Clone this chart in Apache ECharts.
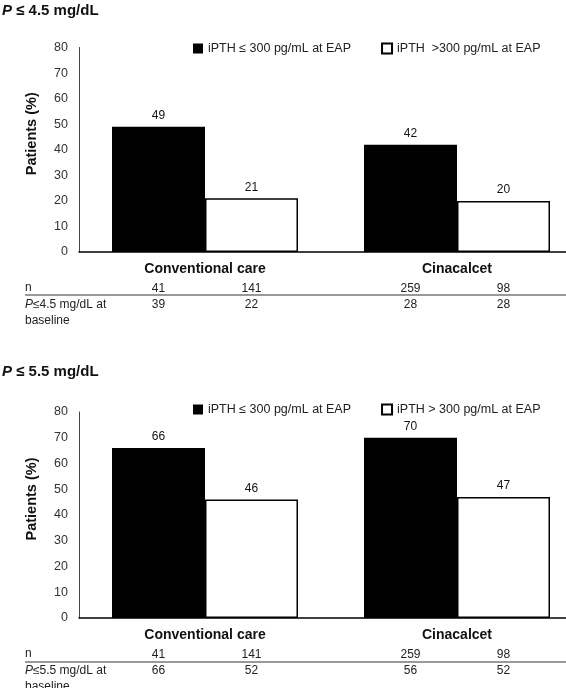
<!DOCTYPE html>
<html>
<head>
<meta charset="utf-8">
<script src="https://cdn.jsdelivr.net/npm/echarts@6/dist/echarts.min.js"></script>
<style>html,body{margin:0;padding:0;background:#fff}#c{width:566px;height:688px}</style>
</head>
<body>
<div id="c"></div>
<script>
const categories = ['Conventional care', 'Cinacalcet'];
const lowName = 'iPTH \u2264 300 pg/mL at EAP';
const highNameTop = 'iPTH  >300 pg/mL at EAP';
const highNameBottom = 'iPTH > 300 pg/mL at EAP';
const titleTop = '4.5';
const titleBottom = '5.5';

const topLow = [49, 42];
const topHigh = [21, 20];
const bottomLow = [66, 70];
const bottomHigh = [46, 47];

const nLow = [41, 259];
const nHigh = [141, 98];

const topBaselineLow = [39, 28];
const topBaselineHigh = [22, 28];
const bottomBaselineLow = [66, 56];
const bottomBaselineHigh = [52, 52];

const yMin = 0, yMax = 80, yInterval = 10;

const FONT = "'Liberation Sans', Arial, Helvetica, sans-serif";
const BW = 93;

function labelSeries(gi, stack, nArr, baseArr) {
  return {
    type: 'bar', xAxisIndex: gi, yAxisIndex: gi, stack: stack, barWidth: BW,
    data: nArr.map(() => 0), silent: true,
    itemStyle: { color: 'transparent', borderWidth: 0 },
    label: {
      show: true, position: 'bottom', distance: 29,
      formatter: p => nArr[p.dataIndex] + '\n' + baseArr[p.dataIndex],
      fontFamily: FONT, fontSize: 12, lineHeight: 16, color: '#222'
    }
  };
}
function valueSeries(gi, stack, name, vals, fill) {
  return {
    type: 'bar', name: name, xAxisIndex: gi, yAxisIndex: gi, stack: stack, barWidth: BW, barGap: 0,
    data: vals,
    itemStyle: fill ? { color: '#000', borderColor: '#000', borderWidth: 0 } : { color: '#fff', borderColor: '#000', borderWidth: 1.5 },
    label: { show: true, position: 'top', distance: 5, fontFamily: FONT, fontSize: 12, color: '#111' }
  };
}

const grids = [
  { left: 79, top: 47.5, height: 204.5, right: -17, outerBoundsMode: 'none' },
  { left: 79, top: 412, height: 206, right: -17, outerBoundsMode: 'none' }
];

function xAxis(gi) {
  return {
    type: 'category', gridIndex: gi, data: categories,
    axisLine: { lineStyle: { color: '#000', width: 1.5 } },
    axisTick: { show: false },
    axisLabel: { margin: 10, fontFamily: FONT, fontSize: 14, fontWeight: 'bold', color: '#111' }
  };
}
function yAxis(gi) {
  return {
    type: 'value', gridIndex: gi, min: yMin, max: yMax, interval: yInterval,
    name: 'Patients (%)', nameLocation: 'middle', nameGap: 40, nameRotate: 90,
    nameTextStyle: { fontFamily: FONT, fontSize: 14.5, fontWeight: 'bold', color: '#111', padding: [0, 0, 0, 32] },
    axisLine: { show: true, lineStyle: { color: '#444', width: 1 } },
    axisTick: { show: false },
    splitLine: { show: false },
    axisLabel: { margin: 11, fontFamily: FONT, fontSize: 12.5, color: '#333' }
  };
}

function titleObj(val, top) {
  return {
    text: '{i|P} \u2264 ' + val + ' mg/dL', left: 2, top: top, padding: 0,
    textStyle: {
      fontFamily: FONT, fontSize: 15, fontWeight: 'bold', color: '#111',
      rich: { i: { fontFamily: FONT, fontSize: 15, fontWeight: 'bold', fontStyle: 'italic', color: '#111' } }
    }
  };
}
function legendObj(top, highName) {
  return {
    data: [lowName, highName], left: 193, top: top, padding: 0, itemWidth: 10, itemHeight: 10, itemGap: 30,
    icon: 'rect', selectedMode: false,
    textStyle: { fontFamily: FONT, fontSize: 12.5, color: '#222' }
  };
}

function rowGraphics(lineY, nY, val) {
  return [
    { type: 'line', shape: { x1: 25, y1: lineY, x2: 566, y2: lineY }, style: { stroke: '#777', lineWidth: 1.5 } },
    { type: 'text', left: 25, top: nY - 7, style: { text: 'n', fontFamily: FONT, fontSize: 12, fill: '#222' } },
    { type: 'text', left: 25, top: nY + 8, style: {
        text: '{i|P}\u2264' + val + ' mg/dL at\nbaseline', fontFamily: FONT, fontSize: 12, lineHeight: 16, fill: '#222',
        rich: { i: { fontStyle: 'italic', fontFamily: FONT, fontSize: 12, fill: '#222' } } } }
  ];
}

const chart = echarts.init(document.getElementById('c'), null, { renderer: 'canvas' });
chart.setOption({
  backgroundColor: '#fff',
  animation: false,
  title: [titleObj(titleTop, 3), titleObj(titleBottom, 364)],
  legend: [legendObj(42, highNameTop), legendObj(403, highNameBottom)],
  grid: grids,
  xAxis: [xAxis(0), xAxis(1)],
  yAxis: [yAxis(0), yAxis(1)],
  series: [
    labelSeries(0, 'low0', nLow, topBaselineLow),
    valueSeries(0, 'low0', lowName, topLow, true),
    labelSeries(0, 'high0', nHigh, topBaselineHigh),
    valueSeries(0, 'high0', highNameTop, topHigh, false),
    labelSeries(1, 'low1', nLow, bottomBaselineLow),
    valueSeries(1, 'low1', lowName, bottomLow, true),
    labelSeries(1, 'high1', nHigh, bottomBaselineHigh),
    valueSeries(1, 'high1', highNameBottom, bottomHigh, false)
  ],
  graphic: rowGraphics(295, 289, titleTop).concat(rowGraphics(662, 655, titleBottom))
});
</script>
</body>
</html>
